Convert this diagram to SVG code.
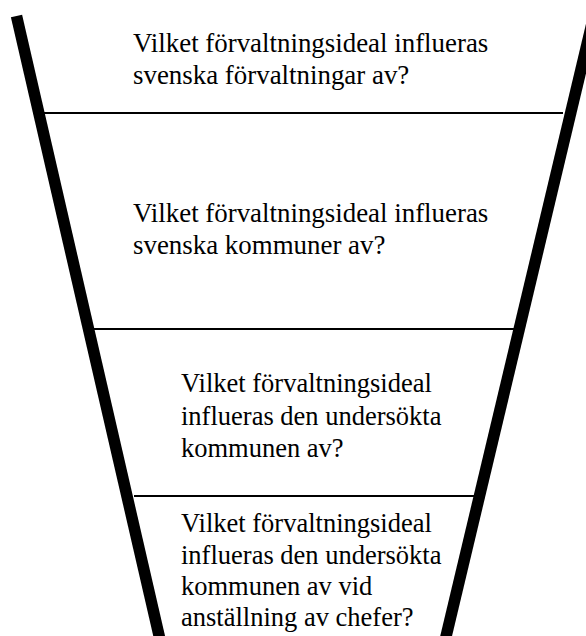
<svg xmlns="http://www.w3.org/2000/svg" width="586" height="636" viewBox="0 0 586 636">
<style>
.wall{stroke:#000;stroke-width:11.5;fill:none}
.sep{stroke:#000;stroke-width:2;fill:none}
text{font-family:"Liberation Serif","Times New Roman",serif;font-size:26.5px;fill:#000}
.big{font-size:26.9px}
</style>
<rect width="586" height="636" fill="#fff"/>
<g id="connectors">
<line class="wall" x1="16.5" y1="16" x2="161" y2="644"/>
<line class="wall" x1="594" y1="15" x2="444" y2="645"/>
<line class="sep" x1="43" y1="113" x2="563" y2="113"/>
<line class="sep" x1="93" y1="329" x2="514" y2="329"/>
<line class="sep" x1="134" y1="496" x2="474" y2="496"/>
</g>
<g id="level1" class="big">
<text class="big" x="133" y="52">Vilket förvaltningsideal influeras</text>
<text class="big" x="133" y="84">svenska förvaltningar av?</text>
</g>
<g id="level2">
<text class="big" x="133" y="222">Vilket förvaltningsideal influeras</text>
<text class="big" x="133" y="254">svenska kommuner av?</text>
</g>
<g id="level3">
<text x="181" y="392">Vilket förvaltningsideal</text>
<text x="181" y="424.5">influeras den undersökta</text>
<text x="181" y="457">kommunen av?</text>
</g>
<g id="level4">
<text x="181" y="532">Vilket förvaltningsideal</text>
<text x="181" y="563.5">influeras den undersökta</text>
<text x="181" y="594.5">kommunen av vid</text>
<text x="181" y="625.5">anställning av chefer?</text>
</g>
</svg>
